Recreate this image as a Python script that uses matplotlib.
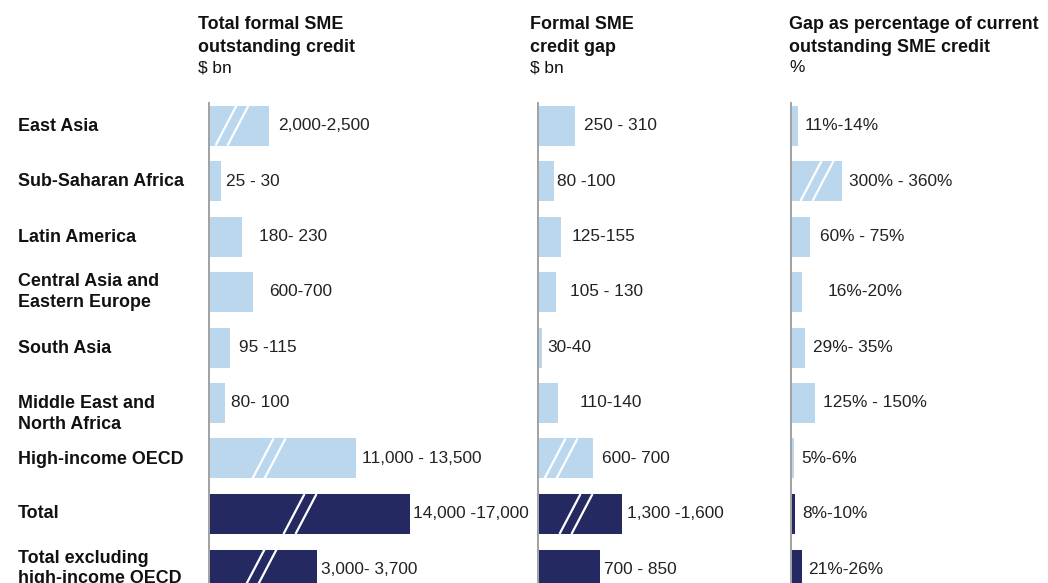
import matplotlib
matplotlib.use("Agg")
import matplotlib.pyplot as plt

# ---------------- data ----------------
regions = ["East Asia", "Sub-Saharan Africa", "Latin America",
           "Central Asia and\nEastern Europe", "South Asia",
           "Middle East and\nNorth Africa", "High-income OECD", "Total",
           "Total excluding\nhigh-income OECD"]
is_total = [False, False, False, False, False, False, False, True, True]

headers = [("Total formal SME\noutstanding credit", "$ bn"),
           ("Formal SME\ncredit gap", "$ bn"),
           ("Gap as percentage of current\noutstanding SME credit", "%")]

# displayed bar lengths (broken scale)
credit_len = [59, 11, 32, 43, 20, 15, 146, 200, 107]
credit_labels = ["2,000-2,500", "25 - 30", "180- 230", "600-700", "95 -115",
                 "80- 100", "11,000 - 13,500", "14,000 -17,000", "3,000- 3,700"]
credit_broken = [True, False, False, False, False, False, True, True, True]

gap_len = [36, 15, 22, 17, 3, 19, 54, 83, 61]
gap_labels = ["250 - 310", "80 -100", "125-155", "105 - 130", "30-40",
              "110-140", "600- 700", "1,300 -1,600", "700 - 850"]
gap_broken = [False, False, False, False, False, False, True, True, False]

pct_len = [6, 50, 18, 10, 13, 23, 2, 3, 10]
pct_labels = ["11%-14%", "300% - 360%", "60% - 75%", "16%-20%", "29%- 35%",
              "125% - 150%", "5%-6%", "8%-10%", "21%-26%"]
pct_broken = [False, True, False, False, False, False, False, False, False]

# ---------------- style / layout ----------------
W, H = 1048, 583
LIGHT = "#BAD7EE"
NAVY = "#242A61"
AXIS_GRAY = "#9A9A9A"
TXT = "#111111"
FS = 12.4
FS_B = 12.9
FONT = ["Liberation Sans", "DejaVu Sans"]

panel_x = [209, 538, 791]          # px of each baseline
panel_w = [330, 240, 257]
header_x = [198, 530, 789]
label_gaps = [[9, 5, 17, 16, 9, 6, 6, 3, 4],
              [9, 3, 10, 14, 5, 21, 9, 5, 4],
              [6, 7, 10, 25, 8, 8, 7, 7, 6]]
break_pos = [[23, 0, 0, 0, 0, 0, 60, 91, 51],
             [0, 0, 0, 0, 0, 0, 23, 38, 0],
             [0, 26, 0, 0, 0, 0, 0, 0, 0]]
row_label_dy = [1, 1, 1, 0, 1, 11, 1, -1, -1]

row0, row_step = 125.5, 55.5
bar_h_px = 40.0
bar_h = bar_h_px / row_step
top_px = 103.0

plt.rcParams['font.family'] = FONT

fig = plt.figure(figsize=(W / 100, H / 100), dpi=100)


def fx(px):
    return px / W


def fy(py):
    return 1 - py / H


ymin = (top_px - row0) / row_step
ymax = (H - row0) / row_step

panels = [(credit_len, credit_labels, credit_broken),
          (gap_len, gap_labels, gap_broken),
          (pct_len, pct_labels, pct_broken)]

rows = list(range(len(regions)))
for p, (vals, labs, brk) in enumerate(panels):
    ax = fig.add_axes([fx(panel_x[p]), 0, panel_w[p] / W, 1 - top_px / H])
    ax.set_xlim(0, panel_w[p])
    ax.set_ylim(ymax, ymin)
    colors = [NAVY if t else LIGHT for t in is_total]
    ax.barh(rows, vals, height=bar_h, left=1.2, color=colors, edgecolor='none')
    for s in ["top", "right", "bottom"]:
        ax.spines[s].set_visible(False)
    ax.spines["left"].set_color(AXIS_GRAY)
    ax.spines["left"].set_linewidth(1.3)
    ax.set_xticks([])
    ax.set_yticks([])
    ax.patch.set_alpha(0)
    # break marks
    for i in rows:
        if brk[i]:
            m = break_pos[p][i]
            yb, yt = i + bar_h / 2, i - bar_h / 2
            for off in (-6, 6):
                ax.plot([m + off - 10.5, m + off + 10.5], [yb, yt],
                        color="white", lw=1.6, solid_capstyle='butt',
                        clip_on=True)
    # value labels
    for i in rows:
        ax.text(1.2 + vals[i] + label_gaps[p][i], i, labs[i], ha='left',
                va='center', fontsize=FS, color="#222222")
    # headers
    bold, unit = headers[p]
    lines = bold.split("\n")
    fig.text(fx(header_x[p]), fy(29), lines[0], fontsize=FS_B,
             fontweight='bold', color=TXT, va='baseline', ha='left')
    fig.text(fx(header_x[p]), fy(51.5), lines[1], fontsize=FS_B,
             fontweight='bold', color=TXT, va='baseline', ha='left')
    fig.text(fx(header_x[p]), fy(72), unit, fontsize=FS, color=TXT,
             va='baseline', ha='left')

# row labels
for i, r in enumerate(regions):
    fig.text(fx(18), fy(row0 + row_step * i + row_label_dy[i]), r,
             fontsize=FS_B, fontweight='bold', color=TXT, va='center',
             ha='left', linespacing=1.3)

fig.savefig("out.png", dpi=100, facecolor="white")
